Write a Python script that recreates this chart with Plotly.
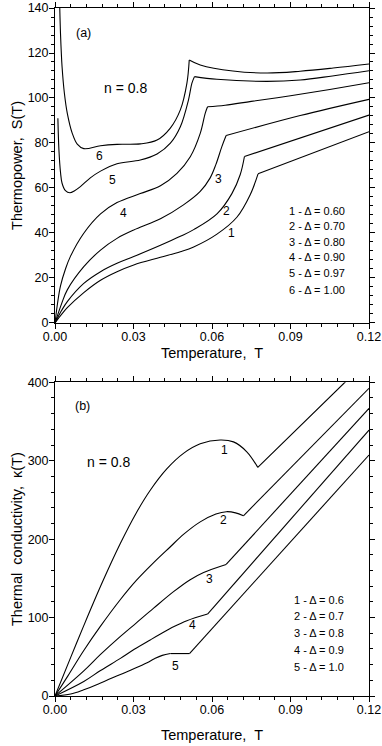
import plotly.graph_objects as go

# ---------------- Panel (a): thermopower S(T) ----------------
T_S1 = [0, 0.0025, 0.0047, 0.011, 0.0174, 0.0237, 0.0301, 0.0403, 0.0479, 0.053, 0.0619, 0.0695, 0.0746, 0.0776, 0.12]
S1 = [0, 3.8, 6.8, 13.5, 19.0, 22.8, 25.8, 29.2, 31.7, 33.8, 39.5, 47.0, 57.0, 66.3, 85.0]
KNEE_S1 = [13]

T_S2 = [0, 0.0025, 0.0047, 0.011, 0.0174, 0.0237, 0.0301, 0.0403, 0.0479, 0.053, 0.0619, 0.0676, 0.0708, 0.0724, 0.12]
S2 = [0, 5.5, 9.5, 17.6, 22.8, 26.5, 29.5, 34.5, 38.5, 41.5, 48.5, 57.5, 66.0, 74.0, 92.4]
KNEE_S2 = [13]

T_S3 = [0, 0.0025, 0.0047, 0.011, 0.0174, 0.0237, 0.0301, 0.0364, 0.0403, 0.0491, 0.0555, 0.0593, 0.0615, 0.0638, 0.0654, 0.0937, 0.12]
S3 = [0, 8.5, 14.7, 25.0, 32.4, 37.6, 41.3, 44.3, 46.3, 52.5, 58.5, 64.5, 70.5, 78.5, 83.3, 92.2, 99.4]
KNEE_S3 = [14]

T_S4 = [0, 0.001, 0.0021, 0.004, 0.0059, 0.011, 0.0174, 0.0237, 0.0326, 0.0403, 0.0466, 0.0517, 0.0555, 0.0574, 0.0583, 0.065, 0.075, 0.09, 0.105, 0.12]
S4 = [0, 9.0, 16.5, 24.0, 29.6, 39.9, 48.5, 53.5, 57.5, 61.0, 66.5, 73.9, 84.3, 93.2, 96.1, 96.8, 98.5, 101.0, 103.8, 106.8]
KNEE_S4 = [14]

T_S5 = [0.0011, 0.0015, 0.0021, 0.0027, 0.004, 0.0057, 0.0075, 0.0097, 0.0135, 0.0174, 0.0237, 0.0326, 0.039, 0.0441, 0.0479, 0.051, 0.0523, 0.0533, 0.0619, 0.081, 0.0937, 0.106, 0.12]
S5 = [91.0, 76.9, 67.0, 62.1, 58.8, 57.9, 58.8, 60.6, 64.5, 67.5, 70.8, 72.4, 75.1, 79.9, 87.2, 99.1, 106.5, 109.5, 108.3, 107.4, 108.0, 109.8, 112.1]
KNEE_S5 = [17]

T_S6 = [0.0017, 0.0021, 0.0027, 0.0036, 0.0047, 0.0066, 0.0085, 0.011, 0.0174, 0.0237, 0.0326, 0.039, 0.044, 0.0479, 0.0504, 0.0513, 0.0555, 0.068, 0.081, 0.0937, 0.1063, 0.12]
S6 = [146.0, 128.7, 113.9, 102.0, 93.2, 84.3, 79.5, 77.5, 78.8, 79.4, 79.6, 81.3, 86.5, 94.7, 106.5, 116.9, 114.7, 112.0, 111.1, 111.9, 113.3, 115.1]
KNEE_S6 = [15]

S_CURVE_LABELS = ["1", "2", "3", "4", "5", "6"]
S_LABEL_T = [0.0676, 0.0657, 0.0625, 0.0263, 0.0218, 0.0170]
S_LABEL_Y = [40.1, 49.9, 64.0, 48.8, 63.6, 74.2]

S_LEGEND = ["1 - \u0394 = 0.60", "2 - \u0394 = 0.70", "3 - \u0394 = 0.80",
            "4 - \u0394 = 0.90", "5 - \u0394 = 0.97", "6 - \u0394 = 1.00"]
S_LEGEND_Y = [49.9, 43.2, 36.1, 29.2, 22.1, 14.6]

# ---------------- Panel (b): thermal conductivity kappa(T) ----------------
T_K1 = [0, 0.006, 0.011, 0.018, 0.025, 0.031, 0.0364, 0.0428, 0.0491, 0.0555, 0.0631, 0.0682, 0.0733, 0.0775, 0.1108, 0.12]
K1 = [0, 49.2, 89.7, 144.3, 194.7, 233.1, 262.3, 289.8, 309.3, 321.5, 326.4, 324.0, 311.4, 291.5, 400, 430]
KNEE_K1 = [13]

T_K2 = [0, 0.005, 0.011, 0.0174, 0.025, 0.031, 0.0377, 0.044, 0.0491, 0.0555, 0.0615, 0.0655, 0.069, 0.072, 0.12]
K2 = [0, 26, 58, 89, 123, 147, 170, 190, 206, 222, 232, 235, 233.5, 229.7, 392.3]
KNEE_K2 = [13]

T_K3 = [0, 0.011, 0.0174, 0.025, 0.031, 0.0377, 0.0453, 0.0515, 0.0568, 0.0654, 0.12]
K3 = [0, 32, 53, 76, 93, 112, 133, 148, 157.5, 167.7, 366.8]
KNEE_K3 = [9]

T_K4 = [0, 0.011, 0.0174, 0.025, 0.0303, 0.0364, 0.0403, 0.0455, 0.0504, 0.0583, 0.12]
K4 = [0, 18.5, 32.5, 48, 59.5, 71.5, 79, 88.5, 96, 104.5, 339.1]
KNEE_K4 = [9]

T_K5 = [0, 0.006, 0.011, 0.017, 0.025, 0.0303, 0.0352, 0.038, 0.041, 0.0441, 0.0514, 0.12]
K5 = [0, 2.5, 8, 16, 27.5, 35, 42.5, 47.5, 51.8, 54.1, 54.1, 307.2]
KNEE_K5 = [9, 10]

K_CURVE_LABELS = ["1", "2", "3", "4", "5"]
K_LABEL_T = [0.0647, 0.0644, 0.0591, 0.0526, 0.0460]
K_LABEL_Y = [313.6, 224.2, 149.0, 90.2, 38.3]

K_LEGEND = ["1 - \u0394 = 0.6", "2 - \u0394 = 0.7", "3 - \u0394 = 0.8",
            "4 - \u0394 = 0.9", "5 - \u0394 = 1.0"]
K_LEGEND_Y = [122.1, 102.1, 80.4, 59.2, 37.0]

X_TICKS = [0, 0.03, 0.06, 0.09, 0.12]

FONT = "Liberation Sans, Arial, Helvetica, sans-serif"

fig = go.Figure()


def add_curve(xs, ys, knees, xa, ya):
    cuts = [0] + list(knees) + [len(xs) - 1]
    for a, b in zip(cuts[:-1], cuts[1:]):
        if b <= a:
            continue
        fig.add_trace(go.Scatter(
            x=xs[a:b + 1], y=ys[a:b + 1], mode="lines",
            line=dict(color="black", width=1.1, shape="spline", smoothing=1.0),
            xaxis=xa, yaxis=ya, showlegend=False, hoverinfo="skip"))


for xs, ys, kn in [(T_S1, S1, KNEE_S1), (T_S2, S2, KNEE_S2), (T_S3, S3, KNEE_S3),
                   (T_S4, S4, KNEE_S4), (T_S5, S5, KNEE_S5), (T_S6, S6, KNEE_S6)]:
    add_curve(xs, ys, kn, "x", "y")

for xs, ys, kn in [(T_K1, K1, KNEE_K1), (T_K2, K2, KNEE_K2), (T_K3, K3, KNEE_K3),
                   (T_K4, K4, KNEE_K4), (T_K5, K5, KNEE_K5)]:
    add_curve(xs, ys, kn, "x2", "y2")

tickfont = dict(size=12.5, family=FONT, color="black")
titlefont = dict(size=14.5, family=FONT, color="black")

ann = []
for txt, tx, ty in zip(S_CURVE_LABELS, S_LABEL_T, S_LABEL_Y):
    ann.append(dict(x=tx, y=ty, xref="x", yref="y", text=txt, showarrow=False,
                    font=dict(size=12, family=FONT, color="black")))
for txt, ty in zip(S_LEGEND, S_LEGEND_Y):
    ann.append(dict(x=0.0886, y=ty, xref="x", yref="y", text=txt, showarrow=False,
                    xanchor="left", font=dict(size=11, family=FONT, color="black")))
ann.append(dict(x=0.0108, y=128.7, xref="x", yref="y", text="(a)", showarrow=False,
                font=dict(size=12.5, family=FONT, color="black")))
ann.append(dict(x=0.027, y=104.3, xref="x", yref="y", text="n = 0.8", showarrow=False,
                font=dict(size=14, family=FONT, color="black")))
# x-axis title of panel (a), placed just under its tick labels
ann.append(dict(x=0.5, y=0.5131, xref="paper", yref="paper", text="Temperature,\u00a0 T",
                showarrow=False, xanchor="center", yanchor="top", font=titlefont))

for txt, tx, ty in zip(K_CURVE_LABELS, K_LABEL_T, K_LABEL_Y):
    ann.append(dict(x=tx, y=ty, xref="x2", yref="y2", text=txt, showarrow=False,
                    font=dict(size=12, family=FONT, color="black")))
for txt, ty in zip(K_LEGEND, K_LEGEND_Y):
    ann.append(dict(x=0.0905, y=ty, xref="x2", yref="y2", text=txt, showarrow=False,
                    xanchor="left", font=dict(size=11, family=FONT, color="black")))
ann.append(dict(x=0.0104, y=369.8, xref="x2", yref="y2", text="(b)", showarrow=False,
                font=dict(size=12.5, family=FONT, color="black")))
ann.append(dict(x=0.0205, y=298.7, xref="x2", yref="y2", text="n = 0.8", showarrow=False,
                font=dict(size=14, family=FONT, color="black")))

xcommon = dict(range=[0, 0.12], tickvals=X_TICKS, tickformat=".2f",
               ticks="outside", ticklen=5, tickcolor="black", tickwidth=1,
               showline=True, linecolor="black", linewidth=1, mirror="ticks",
               showgrid=False, zeroline=False, tickfont=tickfont, automargin=False,
               ticklabelstandoff=-3,
               minor=dict(dtick=0.006, tick0=0, ticks="outside", ticklen=3,
                          tickcolor="black", showgrid=False))
ycommon = dict(ticks="outside", ticklen=5, tickcolor="black", tickwidth=1,
               showline=True, linecolor="black", linewidth=1, mirror="ticks",
               showgrid=False, zeroline=False, tickfont=tickfont, automargin=False,
               ticklabelstandoff=-2)

fig.update_layout(
    width=382, height=746,
    margin=dict(l=55, r=13, t=8, b=50),
    paper_bgcolor="white", plot_bgcolor="white",
    font=dict(family=FONT, color="black"),
    xaxis=dict(**xcommon, domain=[0, 1], anchor="y"),
    yaxis=dict(**ycommon, domain=[0.5422, 1], anchor="x", range=[0, 140], dtick=20,
               minor=dict(dtick=4, ticks="outside", ticklen=3, tickcolor="black", showgrid=False),
               title=dict(text="Thermopower,\u00a0 S(T)", font=titlefont, standoff=1)),
    xaxis2=dict(**xcommon, domain=[0, 1], anchor="y2",
                title=dict(text="Temperature,\u00a0 T", font=titlefont, standoff=13)),
    yaxis2=dict(**ycommon, domain=[0, 0.456], anchor="x2", range=[0, 400], dtick=100,
                minor=dict(dtick=20, ticks="outside", ticklen=3, tickcolor="black", showgrid=False),
                title=dict(text="Thermal\u00a0 conductivity,\u00a0 \u03ba(T)", font=titlefont, standoff=1)),
    annotations=ann,
    showlegend=False,
)

fig.write_html("out.html", config={"displayModeBar": False},
               post_script="document.body.style.margin='0px';")
